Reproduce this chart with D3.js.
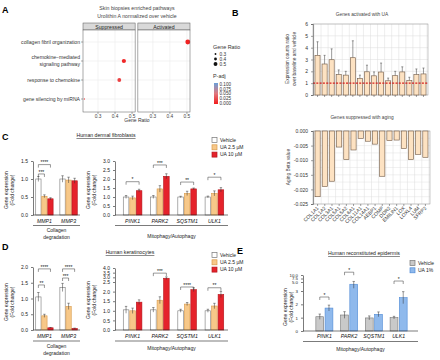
<!DOCTYPE html>
<html><head><meta charset="utf-8">
<script src="https://cdn.jsdelivr.net/npm/d3@7"></script>
<style>body{margin:0;background:#fff} svg{display:block} text{font-family:"Liberation Sans",Arial,sans-serif}</style>
</head><body><svg id="c" width="440" height="360"></svg>
<script>
// ---------- Panel A data ----------
const pathways = ["collagen fibril organization","chemokine\u2212mediated|signaling pathway","response to chemokine","gene silencing by miRNA"];
const pathwayFacet = ["Activated","Suppressed","Suppressed","Suppressed"];
const pathwayRatio = [0.505, 0.452, 0.425, 0.22];
const pathwayPadj = [0.003, 0.006, 0.02, 0.02];
const facets = ["Suppressed","Activated"];
const ratioTicks = [0.3, 0.4, 0.5];
const padjTicks = [0.100, 0.075, 0.050, 0.025, 0.000];

// ---------- Panel B data ----------
const activatedRatio = [3.35,2.62,2.98,1.72,1.68,3.15,1.40,1.96,1.62,1.94,1.20,1.63,1.95,1.22,1.72,1.78];
const activatedErr   = [1.15,0.73,0.92,0.40,0.32,1.43,0.28,0.56,0.33,0.76,0.23,0.37,0.43,0.28,0.48,0.50];
const agingGenes = ["COL1A1","COL1A2","COL3A1","COL5A1","COL5A2","COL6A1","COL11A1","COL14A1","AEBP1","COMP","DDR2","EMILIN1","LOX","LOXL4","LUM","SFRP2"];
const agingBeta = [-0.0225,-0.019,-0.0172,-0.0055,-0.0098,-0.0065,-0.0025,-0.0035,-0.0045,-0.0155,-0.0033,-0.0031,-0.006,-0.0098,-0.008,-0.009];

// ---------- Panels C / D data ----------
const treatments = ["Vehicle","UA 2.5 \u00b5M","UA 10 \u00b5M"];
const collagenGenes = ["MMP1","MMP3"];
const mitoGenes = ["PINK1","PARK2","SQSTM1","ULK1"];
// C: fibroblasts
const cCollagen = [[1.0,1.0],[0.52,0.97],[0.45,0.95]];
const cCollagenErr = [[0.07,0.09],[0.04,0.08],[0.03,0.07]];
const cMito = [[1.0,1.0,1.0,1.0],[0.95,1.45,1.2,1.2],[1.35,2.15,1.45,1.4]];
const cMitoErr = [[0.08,0.08,0.04,0.05],[0.1,0.18,0.12,0.14],[0.08,0.14,0.05,0.12]];
// D: keratinocytes
const dCollagen = [[1.05,1.35],[0.45,0.75],[0.07,0.05]];
const dCollagenErr = [[0.14,0.13],[0.05,0.1],[0.01,0.01]];
const dMito = [[1.05,1.05,1.0,1.0],[1.0,1.55,1.35,1.25],[1.45,2.9,2.1,1.85]];
const dMitoErr = [[0.18,0.12,0.08,0.08],[0.14,0.18,0.08,0.14],[0.12,0.15,0.1,0.16]];
// E: reconstituted epidermis
const eTreatments = ["Vehicle","UA 1%"];
const eMito = [[1.07,1.2,0.98,1.0],[1.72,4.5,1.25,2.5]];
const eMitoErr = [[0.2,0.25,0.15,0.1],[0.22,0.9,0.18,0.45]];
const eTicks = [0,1,2,3,5,7.5,10];
const eTickLabels = ["0","1","2","3","5.0","7.5","10.0"];

const svg = d3.select("#c");

function txt(g, x, y, s, o = {}) {
  const t = g.append("text").attr("x", x).attr("y", y).text(s)
    .attr("font-size", o.size || 5).attr("fill", o.fill || "#222")
    .attr("text-anchor", o.anchor || "start");
  if (o.weight) t.attr("font-weight", o.weight);
  if (o.italic) t.attr("font-style", "italic");
  if (o.underline) t.attr("text-decoration", "underline");
  if (o.rotate != null) t.attr("transform", `rotate(${o.rotate},${x},${y})`);
  return t;
}

// ================= Panel A =================
const gA = svg.append("g");
txt(gA, 2, 13, "A", {size: 9, weight: "bold", fill: "#000"});
txt(gA, 137, 10, "Skin biopsies enriched pathways", {size: 5.2, anchor: "middle", fill: "#444"});
txt(gA, 137, 17.5, "Urolithin A normalized over vehicle", {size: 5.2, anchor: "middle", fill: "#444"});
const fx = d3.scaleBand().domain(facets).range([83, 190]).paddingInner(0.05);
const yPath = d3.scalePoint().domain(pathways).range([42, 99]);
const rScale = d3.scaleLinear().domain([0.2, 0.5]).range([0.5, 2.4]);
const cScale = d3.scaleLinear().domain([0, 0.05, 0.1]).range(["#f21c1c", "#e0787e", "#6a9fd8"]);
const pTop = 30, pBot = 112;
facets.forEach(f => {
  const x0 = fx(f), w = fx.bandwidth();
  const xs = d3.scaleLinear().domain([0.212, 0.518]).range([x0, x0 + w]);
  gA.append("rect").attr("x", x0).attr("y", 23).attr("width", w).attr("height", 7)
    .attr("fill", "#d9d9d9").attr("stroke", "#555").attr("stroke-width", 0.5);
  txt(gA, x0 + w / 2, 28.6, f, {size: 5.2, anchor: "middle", fill: "#222"});
  gA.append("rect").attr("x", x0).attr("y", pTop).attr("width", w).attr("height", pBot - pTop)
    .attr("fill", "#fff");
  ratioTicks.forEach(t => {
    gA.append("line").attr("x1", xs(t)).attr("x2", xs(t)).attr("y1", pTop).attr("y2", pBot)
      .attr("stroke", "#ebebeb").attr("stroke-width", 0.6);
    gA.append("line").attr("x1", xs(t)).attr("x2", xs(t)).attr("y1", pBot).attr("y2", pBot + 2)
      .attr("stroke", "#555").attr("stroke-width", 0.5);
    txt(gA, xs(t), 117.5, t.toFixed(1), {size: 4.8, anchor: "middle", fill: "#444"});
  });
  pathways.forEach(p => {
    gA.append("line").attr("x1", x0).attr("x2", x0 + w).attr("y1", yPath(p)).attr("y2", yPath(p))
      .attr("stroke", "#ebebeb").attr("stroke-width", 0.6);
  });
  pathways.forEach((p, i) => {
    if (pathwayFacet[i] !== f) return;
    gA.append("circle").attr("cx", Math.max(xs(pathwayRatio[i]), x0 + 0.6)).attr("cy", yPath(p))
      .attr("r", rScale(pathwayRatio[i])).attr("fill", cScale(pathwayPadj[i]));
  });
  gA.append("rect").attr("x", x0).attr("y", pTop).attr("width", w).attr("height", pBot - pTop)
    .attr("fill", "none").attr("stroke", "#555").attr("stroke-width", 0.5);
});
pathways.forEach(p => {
  const parts = p.split("|");
  const y = yPath(p);
  gA.append("line").attr("x1", 81).attr("x2", 83).attr("y1", y).attr("y2", y).attr("stroke", "#555").attr("stroke-width", 0.5);
  if (parts.length === 1) txt(gA, 80, y + 1.8, parts[0], {size: 5.1, anchor: "end", fill: "#333"});
  else {
    txt(gA, 80, y - 1.6, parts[0], {size: 5.1, anchor: "end", fill: "#333"});
    txt(gA, 80, y + 5, parts[1], {size: 5.1, anchor: "end", fill: "#333"});
  }
});
txt(gA, 137, 122, "Gene Ratio", {size: 5, anchor: "middle", fill: "#333"});
// legend A
txt(gA, 213, 49, "Gene Ratio", {size: 5.4, fill: "#333"});
ratioTicks.forEach((t, i) => {
  const y = 54 + i * 5;
  gA.append("circle").attr("cx", 215.5).attr("cy", y).attr("r", rScale(t) * 0.8).attr("fill", "#111");
  txt(gA, 219.5, y + 1.8, t.toFixed(1), {size: 4.8, fill: "#333"});
});
txt(gA, 213, 78, "P-adj", {size: 5.4, fill: "#333"});
const grad = svg.append("defs").append("linearGradient").attr("id", "padjGrad")
  .attr("x1", 0).attr("x2", 0).attr("y1", 0).attr("y2", 1);
[0, 0.5, 1].forEach(o => grad.append("stop").attr("offset", o).attr("stop-color", cScale(0.1 * (1 - o))));
const padjY = d3.scaleLinear().domain([0.1, 0]).range([84, 103]);
gA.append("rect").attr("x", 214).attr("y", 83).attr("width", 4).attr("height", 21).attr("fill", "url(#padjGrad)");
padjTicks.forEach(t => txt(gA, 219.5, padjY(t) + 1.8, t.toFixed(3), {size: 4.6, fill: "#333"}));

// ================= Panel B =================
const gB = svg.append("g");
txt(gB, 232, 16, "B", {size: 9, weight: "bold", fill: "#000"});
txt(gB, 362, 15.5, "Genes activated with UA", {size: 4.8, anchor: "middle", fill: "#444"});
const xTop = d3.scaleBand().domain(d3.range(activatedRatio.length)).range([313, 428]).padding(0.28);
const yTop = d3.scaleLinear().domain([0, 6]).range([95, 24]);
const step = xTop.step();
d3.range(0, 7).forEach(v => gB.append("line").attr("x1", 313).attr("x2", 428).attr("y1", yTop(v)).attr("y2", yTop(v)).attr("stroke", "#ddd").attr("stroke-width", 0.5));
d3.range(activatedRatio.length + 1).forEach(i => {
  const x = 313 + xTop.paddingOuter() * step + i * step - xTop.paddingInner() * step / 2;
  gB.append("line").attr("x1", x).attr("x2", x).attr("y1", 24).attr("y2", 95).attr("stroke", "#ddd").attr("stroke-width", 0.5);
});
gB.append("rect").attr("x", 313).attr("y", 24).attr("width", 115).attr("height", 71).attr("fill", "none").attr("stroke", "#999").attr("stroke-width", 0.5);
activatedRatio.forEach((v, i) => {
  const x = xTop(i), w = xTop.bandwidth(), cx = x + w / 2;
  gB.append("line").attr("x1", cx).attr("x2", cx).attr("y1", yTop(v)).attr("y2", yTop(v + activatedErr[i])).attr("stroke", "#555").attr("stroke-width", 0.6);
  gB.append("line").attr("x1", cx - 1).attr("x2", cx + 1).attr("y1", yTop(v + activatedErr[i])).attr("y2", yTop(v + activatedErr[i])).attr("stroke", "#555").attr("stroke-width", 0.6);
  gB.append("rect").attr("x", x).attr("y", yTop(v)).attr("width", w).attr("height", yTop(0) - yTop(v))
    .attr("fill", "#fde2c2").attr("stroke", "#6e5642").attr("stroke-width", 0.6);
  gB.append("line").attr("x1", cx).attr("x2", cx).attr("y1", 95).attr("y2", 97).attr("stroke", "#444").attr("stroke-width", 0.5);
});
gB.append("line").attr("x1", 313).attr("x2", 428).attr("y1", yTop(1)).attr("y2", yTop(1))
  .attr("stroke", "#d81e1e").attr("stroke-width", 1.1).attr("stroke-dasharray", "2,1.3");
const axTop = gB.append("g").attr("transform", "translate(313,0)").call(d3.axisLeft(yTop).ticks(6).tickSize(2).tickFormat(d3.format("d")));
axTop.selectAll("text").attr("font-size", 5).attr("fill", "#333");
axTop.selectAll("path,line").attr("stroke", "#444").attr("stroke-width", 0.5);
txt(gB, 289, 59, "Expression counts ratio", {size: 4.8, anchor: "middle", rotate: -90, fill: "#444"});
txt(gB, 296, 59, "over baseline and vehicle", {size: 4.8, anchor: "middle", rotate: -90, fill: "#444"});

txt(gB, 362, 119, "Genes suppressed with aging", {size: 4.8, anchor: "middle", fill: "#444"});
const xBot = d3.scaleBand().domain(agingGenes).range([313, 430]).padding(0.28);
const yBot = d3.scaleLinear().domain([-0.025, 0]).range([204, 131]);
const stepB = xBot.step();
d3.range(-0.025, 0.0001, 0.0025).forEach(v => gB.append("line").attr("x1", 313).attr("x2", 430).attr("y1", yBot(v)).attr("y2", yBot(v)).attr("stroke", "#e2e2e2").attr("stroke-width", 0.5));
d3.range(agingGenes.length + 1).forEach(i => {
  const x = 313 + xBot.paddingOuter() * stepB + i * stepB - xBot.paddingInner() * stepB / 2;
  gB.append("line").attr("x1", x).attr("x2", x).attr("y1", 131).attr("y2", 204).attr("stroke", "#ddd").attr("stroke-width", 0.5);
});
gB.append("rect").attr("x", 313).attr("y", 131).attr("width", 117).attr("height", 73).attr("fill", "none").attr("stroke", "#999").attr("stroke-width", 0.5);
agingGenes.forEach((g, i) => {
  const v = agingBeta[i];
  gB.append("rect").attr("x", xBot(g)).attr("y", yBot(0)).attr("width", xBot.bandwidth()).attr("height", yBot(v) - yBot(0))
    .attr("fill", "#fde2c2").attr("stroke", "#6e5642").attr("stroke-width", 0.6);
  const cx = xBot(g) + xBot.bandwidth() / 2;
  gB.append("line").attr("x1", cx).attr("x2", cx).attr("y1", 204).attr("y2", 206).attr("stroke", "#444").attr("stroke-width", 0.5);
  txt(gB, cx + 1.5, 208.5, g, {size: 5, anchor: "end", rotate: -45, fill: "#333"});
});
const axBot = gB.append("g").attr("transform", "translate(313,0)")
  .call(d3.axisLeft(yBot).tickValues([0, -0.005, -0.01, -0.015, -0.02, -0.025]).tickSize(2).tickFormat(d => d.toFixed(3).replace("-0.000", "0.000")));
axBot.selectAll("text").attr("font-size", 5).attr("fill", "#333");
axBot.selectAll("path,line").attr("stroke", "#444").attr("stroke-width", 0.5);
txt(gB, 290, 167, "Aging Beta value", {size: 4.8, anchor: "middle", rotate: -90, fill: "#444"});

// ================= bar plot helper (C, D, E) =================
function barPlot(g, cfg) {
  const xg = d3.scaleBand().domain(cfg.groups).range(cfg.range).paddingInner(cfg.pi).paddingOuter(cfg.po);
  const xi = d3.scaleBand().domain(d3.range(cfg.values.length)).range([0, xg.bandwidth()]).padding(cfg.barPad);
  const y = cfg.y, y0 = y(0);
  cfg.values.forEach((ser, s) => {
    ser.forEach((v, k) => {
      const x = xg(cfg.groups[k]) + xi(s), w = xi.bandwidth(), cx = x + w / 2;
      const e = cfg.errs[s][k];
      g.append("rect").attr("x", x).attr("y", y(v)).attr("width", w).attr("height", y0 - y(v))
        .attr("fill", cfg.fills[s]).attr("stroke", cfg.strokes[s]).attr("stroke-width", 0.6);
      g.append("line").attr("x1", cx).attr("x2", cx).attr("y1", y(v - e)).attr("y2", y(v + e)).attr("stroke", "#333").attr("stroke-width", 0.5);
      g.append("line").attr("x1", cx - 1.2).attr("x2", cx + 1.2).attr("y1", y(v + e)).attr("y2", y(v + e)).attr("stroke", "#333").attr("stroke-width", 0.5);
    });
  });
  const ax = g.append("g").attr("transform", `translate(${cfg.x0},0)`)
    .call(d3.axisLeft(y).tickValues(cfg.ticks).tickSize(2).tickSizeOuter(0).tickFormat((d, i) => cfg.tickLabels ? cfg.tickLabels[i] : d3.format(".1f")(d)));
  ax.selectAll("text").attr("font-size", cfg.tickSize || 5).attr("fill", "#222");
  ax.selectAll("path,line").attr("stroke", "#222").attr("stroke-width", 0.6);
  g.append("line").attr("x1", cfg.x0).attr("x2", cfg.x1).attr("y1", y0).attr("y2", y0).attr("stroke", "#222").attr("stroke-width", 0.6);
  (cfg.brackets || []).forEach(b => {
    const gx = xg(cfg.groups[b.g]);
    const xa = gx + xi(b.a) + xi.bandwidth() / 2, xb = gx + xi(b.b) + xi.bandwidth() / 2;
    const yv = y(b.v);
    g.append("path").attr("d", `M${xa},${yv + 3}V${yv}H${xb}V${yv + 3}`).attr("fill", "none").attr("stroke", "#333").attr("stroke-width", 0.5);
    txt(g, (xa + xb) / 2, yv - 0.3, b.s, {size: 5, anchor: "middle", fill: "#111"});
  });
  cfg.groups.forEach(gr => txt(g, xg(gr) + xg.bandwidth() / 2, cfg.labelY, gr, {size: 5.2, anchor: "middle", italic: true, fill: "#111"}));
  g.append("line").attr("x1", cfg.x0).attr("x2", cfg.x1).attr("y1", cfg.lineY).attr("y2", cfg.lineY).attr("stroke", "#222").attr("stroke-width", 0.6);
  cfg.captions.forEach((c, i) => txt(g, (cfg.x0 + cfg.x1) / 2, cfg.captionY + i * 7, c, {size: 5, anchor: "middle", fill: "#222"}));
  txt(g, cfg.ylx, cfg.yly, "Gene expression", {size: 5, anchor: "middle", rotate: -90, fill: "#222"});
  txt(g, cfg.ylx + 5.5, cfg.yly, "(Fold change)", {size: 5, anchor: "middle", rotate: -90, fill: "#222"});
}
function legend(g, x, y0, labels, fills, strokes) {
  labels.forEach((l, i) => {
    const y = y0 + i * 7.3;
    g.append("rect").attr("x", x).attr("y", y - 2.5).attr("width", 5).attr("height", 5).attr("fill", fills[i]).attr("stroke", strokes[i]).attr("stroke-width", 0.7);
    txt(g, x + 8, y + 1.8, l, {size: 5, fill: "#222"});
  });
}
const cdFills = ["#ffffff", "#f7c889", "#e5222b"];
const cdStrokes = ["#777", "#d99a4a", "#b3141b"];

// ================= Panel C =================
const gC = svg.append("g");
txt(gC, 2, 140, "C", {size: 9, weight: "bold", fill: "#000"});
txt(gC, 106, 137, "Human dermal fibroblasts", {size: 5.2, anchor: "middle", underline: true, fill: "#222"});
legend(gC, 212, 140, treatments, cdFills, cdStrokes);
barPlot(gC, {groups: collagenGenes, values: cCollagen, errs: cCollagenErr, range: [35, 78], pi: 0.22, po: 0, barPad: 0.12,
  y: d3.scaleLinear().domain([0, 1.5]).range([215, 161]), ticks: [0, 0.5, 1, 1.5], x0: 33, x1: 80,
  fills: cdFills, strokes: cdStrokes,
  brackets: [{g: 0, a: 0, b: 1, v: 1.14, s: "***"}, {g: 0, a: 0, b: 2, v: 1.4, s: "****"}],
  labelY: 222.5, lineY: 225.5, captions: ["Collagen", "degradation"], captionY: 232, ylx: 8, yly: 190});
barPlot(gC, {groups: mitoGenes, values: cMito, errs: cMitoErr, range: [121, 226], pi: 0.25, po: 0.05, barPad: 0.14,
  y: d3.scaleLinear().domain([0, 3]).range([215, 161]), ticks: [0, 0.5, 1, 1.5, 2, 2.5, 3], x0: 115, x1: 228,
  fills: cdFills, strokes: cdStrokes,
  brackets: [{g: 0, a: 0, b: 2, v: 1.85, s: "*"}, {g: 1, a: 0, b: 2, v: 2.78, s: "***"}, {g: 2, a: 0, b: 2, v: 1.83, s: "**"}, {g: 3, a: 0, b: 2, v: 2.1, s: "*"}],
  labelY: 222.5, lineY: 225.5, captions: ["Mitophagy/Autophagy"], captionY: 238, ylx: 90, yly: 190});

// ================= Panel D =================
const gD = svg.append("g");
txt(gD, 2, 250, "D", {size: 9, weight: "bold", fill: "#000"});
txt(gD, 130, 254, "Human keratinocytes", {size: 5.2, anchor: "middle", underline: true, fill: "#222"});
legend(gD, 212, 255, treatments, cdFills, cdStrokes);
barPlot(gD, {groups: collagenGenes, values: dCollagen, errs: dCollagenErr, range: [35, 78], pi: 0.22, po: 0, barPad: 0.12,
  y: d3.scaleLinear().domain([0, 2]).range([330, 267]), ticks: [0, 0.5, 1, 1.5, 2], x0: 33, x1: 80,
  fills: cdFills, strokes: cdStrokes,
  brackets: [{g: 0, a: 0, b: 1, v: 1.43, s: "**"}, {g: 0, a: 0, b: 2, v: 1.94, s: "****"},
             {g: 1, a: 0, b: 1, v: 1.65, s: "***"}, {g: 1, a: 0, b: 2, v: 1.94, s: "****"}],
  labelY: 337.5, lineY: 341, captions: ["Collagen", "degradation"], captionY: 347.5, ylx: 8, yly: 302});
barPlot(gD, {groups: mitoGenes, values: dMito, errs: dMitoErr, range: [121, 226], pi: 0.25, po: 0.05, barPad: 0.14,
  y: d3.scaleLinear().domain([0, 2.5, 4]).range([330, 282, 268]), ticks: [0, 0.5, 1, 1.5, 2, 2.5, 3, 3.5, 4], x0: 115, x1: 228,
  fills: cdFills, strokes: cdStrokes,
  brackets: [{g: 1, a: 0, b: 2, v: 3.45, s: "***"}, {g: 2, a: 0, b: 2, v: 2.24, s: "****"}, {g: 3, a: 0, b: 2, v: 2.2, s: "**"}],
  labelY: 337.5, lineY: 341, captions: ["Mitophagy/Autophagy"], captionY: 350, ylx: 90, yly: 300});

// ================= Panel E =================
const gE = svg.append("g");
txt(gE, 237, 254, "E", {size: 9, weight: "bold", fill: "#000"});
txt(gE, 364, 255, "Human reconstituted epidermis", {size: 5.2, anchor: "middle", underline: true, fill: "#222"});
const eFills = ["#c9c9c9", "#8fb9ec"];
const eStrokes = ["#777", "#4f8ad6"];
legend(gE, 410, 263, eTreatments, eFills, eStrokes);
barPlot(gE, {groups: mitoGenes, values: eMito, errs: eMitoErr, range: [312, 411], pi: 0.2, po: 0.1, barPad: 0.15,
  y: d3.scaleLinear().domain([0, 3, 5, 10]).range([331, 291, 282, 275]), ticks: eTicks, tickLabels: eTickLabels, tickSize: 4.4, x0: 303, x1: 418,
  fills: eFills, strokes: eStrokes,
  brackets: [{g: 0, a: 0, b: 1, v: 2.55, s: "*"}, {g: 1, a: 0, b: 1, v: 12, s: "*"}, {g: 3, a: 0, b: 1, v: 5.7, s: "*"}],
  labelY: 338, lineY: 341.5, captions: ["Mitophagy/Autophagy"], captionY: 350.5, ylx: 287, yly: 307});
</script></body></html>
